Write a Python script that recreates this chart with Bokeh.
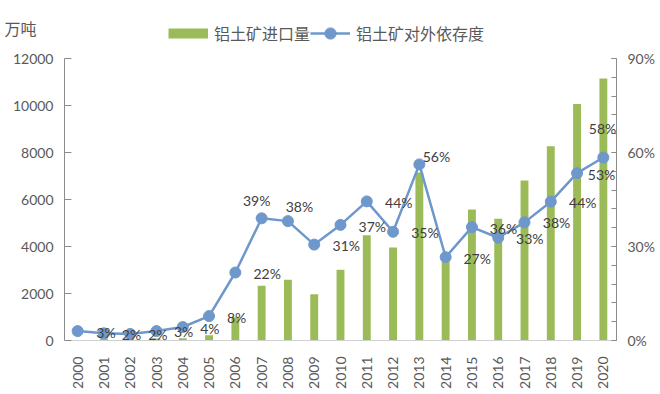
import math
from bokeh.plotting import figure
from bokeh.models import (Range1d, LinearAxis, FixedTicker, Legend, LegendItem,
                          LabelSet, ColumnDataSource)
from bokeh.embed import file_html
from bokeh.resources import INLINE
from bokeh.core.properties import value

# ---- data ----
years = [str(y) for y in range(2000, 2021)]
imports = [20, 100, 50, 80, 100, 225, 990, 2330, 2580, 1970, 3010,
           4480, 3960, 7150, 3600, 5570, 5180, 6810, 8270, 10060, 11150]   # 万吨
dependence = [3.0, 2.3, 2.1, 3.0, 4.3, 7.8, 21.7, 39.0, 38.1, 30.6, 36.9,
              44.4, 34.7, 56.2, 26.6, 36.2, 32.8, 37.7, 44.3, 53.4, 58.4]  # %
dep_labels = [f"{round(v)}%" for v in dependence]
left_ticks = [0, 2000, 4000, 6000, 8000, 10000, 12000]
right_ticks = [0, 30, 60, 90]
LEFT_MAX, RIGHT_MAX = 12000, 90

# label placement (as drawn in the original, offset from the points)
label_x = [1.08, 2.05, 3.05, 4.03, 5.03, 6.05, 7.21, 6.81, 8.44, 10.22, 11.21,
           12.22, 13.21, 13.65, 15.2, 16.2, 17.2, 18.22, 19.22, 19.93, 19.97]
label_y = [2.55, 1.9, 1.9, 3.0, 3.9, 7.4, 21.3, 44.7, 42.8, 30.2, 36.5,
           44.1, 34.4, 58.8, 26.3, 35.8, 32.5, 37.6, 43.9, 53.0, 67.6]

xs = list(range(len(years)))

BAR = "#9BBB59"
LINE = "#6E98CB"
TXT = "#595959"
AX = "#8C8C8C"
NUMFONT = "Lato"
CJK = "Noto Sans CJK SC"

# frame reaches up to the legend row; axes are bounded to the data range
PLOT_H, FRAME_H = 282, 320
stretch = FRAME_H / PLOT_H

p = figure(width=660, height=394, title="万吨",
           min_border_left=64, min_border_right=44, min_border_top=20, min_border_bottom=54,
           x_range=Range1d(-0.5, 20.5), y_range=Range1d(0, LEFT_MAX * stretch),
           output_backend="svg", toolbar_location=None)
p.extra_y_ranges = {"pct": Range1d(0, RIGHT_MAX * stretch)}
p.outline_line_color = None
p.xgrid.visible = False
p.ygrid.visible = False
p.xaxis.visible = False
p.yaxis.visible = False

p.title.align = "left"
p.title.offset = -60
p.title.standoff = -38
p.title.text_font = CJK
p.title.text_font_size = "16px"
p.title.text_font_style = "normal"
p.title.text_color = TXT

xaxis = LinearAxis(ticker=FixedTicker(ticks=xs),
                   major_label_overrides={i: years[i] for i in xs})
xaxis.major_label_orientation = math.pi / 2
xaxis.major_tick_line_color = None
xaxis.minor_tick_line_color = None
xaxis.axis_line_color = "#D0D0D0"
xaxis.major_label_text_font = NUMFONT
xaxis.major_label_text_font_size = "14px"
xaxis.major_label_text_color = TXT
xaxis.major_label_standoff = 10
p.add_layout(xaxis, "below")

laxis = LinearAxis(ticker=FixedTicker(ticks=left_ticks), bounds=(0, LEFT_MAX))
laxis.axis_line_color = AX
laxis.major_tick_line_color = AX
laxis.major_tick_in = 7
laxis.major_tick_out = 0
laxis.minor_tick_line_color = None
laxis.major_label_text_font = NUMFONT
laxis.major_label_text_font_size = "14px"
laxis.major_label_text_color = TXT
laxis.major_label_standoff = 11
p.add_layout(laxis, "left")

raxis = LinearAxis(y_range_name="pct", bounds=(0, RIGHT_MAX),
                   ticker=FixedTicker(ticks=right_ticks, minor_ticks=list(range(0, 91, 6))),
                   major_label_overrides={t: f"{t}%" for t in right_ticks})
raxis.axis_line_color = AX
raxis.major_tick_line_color = AX
raxis.minor_tick_line_color = AX
raxis.major_tick_in = 5
raxis.major_tick_out = 0
raxis.minor_tick_in = 5
raxis.minor_tick_out = 0
raxis.major_label_text_font = NUMFONT
raxis.major_label_text_font_size = "14px"
raxis.major_label_text_color = TXT
raxis.major_label_standoff = 11
p.add_layout(raxis, "right")

bars = p.vbar(x=xs, top=imports, width=0.3, fill_color=BAR, line_color=None)
ln = p.line(xs, dependence, y_range_name="pct", line_color=LINE, line_width=2.5)
pts = p.scatter(xs, dependence, y_range_name="pct", size=11,
                fill_color=LINE, line_color=LINE)
# legend swatch for the bars (a thick line draws a 10px-high patch; no visible data)
bar_key = p.line(x=xs[:1], y=[float("nan")], line_color=BAR, line_width=10,
                 line_cap="butt")

src = ColumnDataSource(dict(x=label_x, y=label_y, t=dep_labels))
labels = LabelSet(x="x", y="y", text="t", source=src, y_range_name="pct",
                  text_align="center", text_baseline="middle",
                  text_font=value(NUMFONT), text_font_size="14px",
                  text_color="#404040")
p.add_layout(labels)

legend = Legend(items=[LegendItem(label="铝土矿进口量", renderers=[bar_key]),
                       LegendItem(label="铝土矿对外依存度", renderers=[ln, pts])],
                orientation="horizontal", location=(104, 293),
                padding=0, margin=0, spacing=0, label_standoff=6,
                glyph_width=40, glyph_height=28,
                label_text_font=CJK, label_text_font_size="16px",
                label_text_color=TXT, border_line_color=None,
                background_fill_alpha=0)
p.add_layout(legend, "center")

open("out.html", "w").write(file_html(p, INLINE))
